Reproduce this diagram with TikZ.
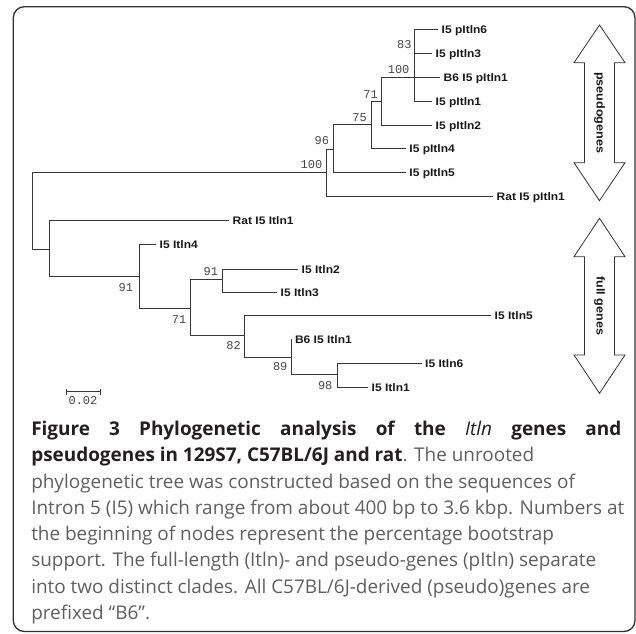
\documentclass[tikz,border=0pt]{standalone}
\usepackage{fontspec}
\usepackage{xcolor}
\setmainfont{Open Sans}
\newfontfamily\leaffont[FakeStretch=1.1]{Liberation Sans}
\newfontfamily\bootfont{Liberation Mono}
\definecolor{treeline}{RGB}{55,55,55}
\definecolor{leaftext}{RGB}{25,25,25}
\definecolor{bootgray}{RGB}{70,70,70}
\definecolor{captdark}{RGB}{35,31,32}
\definecolor{captgray}{RGB}{95,95,95}
\definecolor{framecol}{RGB}{50,50,50}

\begin{document}
\begin{tikzpicture}[x=0.75pt,y=0.75pt,yscale=-1,xscale=1,
  branch/.style={color=treeline,line width=0.75},
  leaf/.style={anchor=west,inner xsep=2.6pt,inner ysep=0pt,text height=5.9pt,text depth=0pt,
    font=\leaffont\bfseries\fontsize{8.2}{9}\selectfont,text=leaftext},
  boot/.style={anchor=east,inner sep=0pt,text height=5.6pt,text depth=0pt,
    font=\bootfont\fontsize{9}{10}\selectfont,text=bootgray},
  bigarrow/.style={draw=framecol,line width=0.6,fill=white},
  arrowtext/.style={rotate=-90,inner sep=0pt,font=\leaffont\bfseries\fontsize{8.6}{9}\selectfont,text=leaftext},
  capt/.style={anchor=base west,inner sep=0pt,font=\fontsize{14.2}{16}\selectfont,text=captgray}]
\path[use as bounding box] (0,0) rectangle (636,634);

%Rounded frame
\draw [color=framecol,line width=1,rounded corners=8.25] (13.3,6.7) rectangle (635,631.5);

%Internal nodes of the tree
\coordinate (root) at (32.5,211);
\coordinate (nA) at (326.6,172.7);
\coordinate (n96) at (333.5,150);
\coordinate (n75) at (371,125);
\coordinate (n71) at (381,101.7);
\coordinate (n100) at (414,77.7);
\coordinate (n83) at (414,41.7);
\coordinate (nB) at (49.5,249.3);
\coordinate (m91) at (139,276.7);
\coordinate (m71) at (190.5,308.3);
\coordinate (m91b) at (222.3,280);
\coordinate (m82) at (244.6,336);
\coordinate (m89) at (291.3,357.7);
\coordinate (m98) at (337,375);

% Leaf Nodes
\node [leaf] (p6) at (438,29.3) {I5 pItln6};
\node [leaf] (p3) at (432,54) {I5 pItln3};
\node [leaf] (b6p) at (440,77.7) {B6 I5 pItln1};
\node [leaf] (p1) at (432,101.7) {I5 pItln1};
\node [leaf] (p2) at (432,125.3) {I5 pItln2};
\node [leaf] (p4) at (405.7,149) {I5 pItln4};
\node [leaf] (p5) at (405.7,172.7) {I5 pItln5};
\node [leaf] (ratp) at (493,196.7) {Rat I5 pItln1};
\node [leaf] (ratl) at (229,220.7) {Rat I5 Itln1};
\node [leaf] (l4) at (156,245) {I5 Itln4};
\node [leaf] (l2) at (298,269.3) {I5 Itln2};
\node [leaf] (l3) at (277,292.5) {I5 Itln3};
\node [leaf] (l5) at (491,316) {I5 Itln5};
\node [leaf] (b6l) at (291.3,339.3) {B6 I5 Itln1};
\node [leaf] (l6) at (421.5,363.3) {I5 Itln6};
\node [leaf] (l1) at (368,387.7) {I5 Itln1};

%Branches
\draw [branch] (root) |- (nA);
\draw [branch] (root) |- (nB);
\draw [branch] (nA) |- (n96);
\draw [branch] (nA) |- (ratp.west);
\draw [branch] (n96) |- (n75);
\draw [branch] (n96) |- (p5.west);
\draw [branch] (n75) |- (n71);
\draw [branch] (n75) |- (p4.west);
\draw [branch] (n71) |- (n100);
\draw [branch] (n71) |- (p2.west);
\draw [branch] (n100) |- (n83);
\draw [branch] (n100) |- (b6p.west);
\draw [branch] (n100) |- (p1.west);
\draw [branch] (n83) |- (p6.west);
\draw [branch] (n83) |- (p3.west);
\draw [branch] (nB) |- (ratl.west);
\draw [branch] (nB) |- (m91);
\draw [branch] (m91) |- (l4.west);
\draw [branch] (m91) |- (m71);
\draw [branch] (m71) |- (m91b);
\draw [branch] (m71) |- (m82);
\draw [branch] (m91b) |- (l2.west);
\draw [branch] (m91b) |- (l3.west);
\draw [branch] (m82) |- (l5.west);
\draw [branch] (m82) |- (m89);
\draw [branch] (m89) |- (b6l.west);
\draw [branch] (m89) |- (m98);
\draw [branch] (m98) |- (l6.west);
\draw [branch] (m98) |- (l1.west);

% Bootstrap values
\node [boot] (bA) at (322.5,165) {100};
\node [boot] (b96) at (329.4,140.7) {96};
\node [boot] (b75) at (367,118) {75};
\node [boot] (b71) at (378,94.3) {71};
\node [boot] (b100) at (409.7,70) {100};
\node [boot] (b83) at (411.8,45) {83};
\node [boot] (c91) at (133.3,287.3) {91};
\node [boot] (c91b) at (218.3,271.7) {91};
\node [boot] (c71) at (186.6,319.3) {71};
\node [boot] (c82) at (241,346) {82};
\node [boot] (c89) at (287.7,367) {89};
\node [boot] (c98) at (332.7,386) {98};

%Scale bar
\coordinate (sbl) at (66,392);
\coordinate (sbr) at (100,392);
\draw [branch] (sbl) -- (sbr);
\draw [branch] ([yshift=-2]sbl) -- ([yshift=2]sbl);
\draw [branch] ([yshift=-2]sbr) -- ([yshift=2]sbr);
\node [boot,anchor=center] (sblabel) at (83,401) {0.02};

%Double arrows
\draw [bigarrow] (599.5,25) -- (625,62.7) -- (614.5,62.7) -- (614.5,162.7) -- (625,162.7) -- (599.5,200.7)
  -- (574,162.7) -- (584.5,162.7) -- (584.5,62.7) -- (574,62.7) -- cycle;
\node [arrowtext] (pseudo) at (599.5,112.7) {pseudogenes};
\draw [bigarrow] (599.5,218.3) -- (625,256.7) -- (614.5,256.7) -- (614.5,355) -- (625,355) -- (599.5,393.3)
  -- (574,355) -- (584.5,355) -- (584.5,256.7) -- (574,256.7) -- cycle;
\node [arrowtext] (fullg) at (599.5,305.8) {full genes};

% Caption
\node [capt] (cap1) at (31,435.5) {\makebox[442.5pt][s]{\color{captdark}\bfseries Figure 3 Phylogenetic analysis of the {\mdseries\itshape Itln} genes and}};
\node [capt] (cap2) at (31,461.8) {{\color{captdark}\bfseries pseudogenes in 129S7, C57BL/6J and rat}. The unrooted};
\node [capt] (cap3) at (31,488.1) {phylogenetic tree was constructed based on the sequences of};
\node [capt] (cap4) at (31,514.4) {Intron 5 (I5) which range from about 400 bp to 3.6 kbp. Numbers at};
\node [capt] (cap5) at (31,540.7) {the beginning of nodes represent the percentage bootstrap};
\node [capt] (cap6) at (31,567) {support. The full-length (Itln)- and pseudo-genes (pItln) separate};
\node [capt] (cap7) at (31,593.3) {into two distinct clades. All C57BL/6J-derived (pseudo)genes are};
\node [capt] (cap8) at (31,619.6) {prefixed ``B6''.};

\end{tikzpicture}
\end{document}
